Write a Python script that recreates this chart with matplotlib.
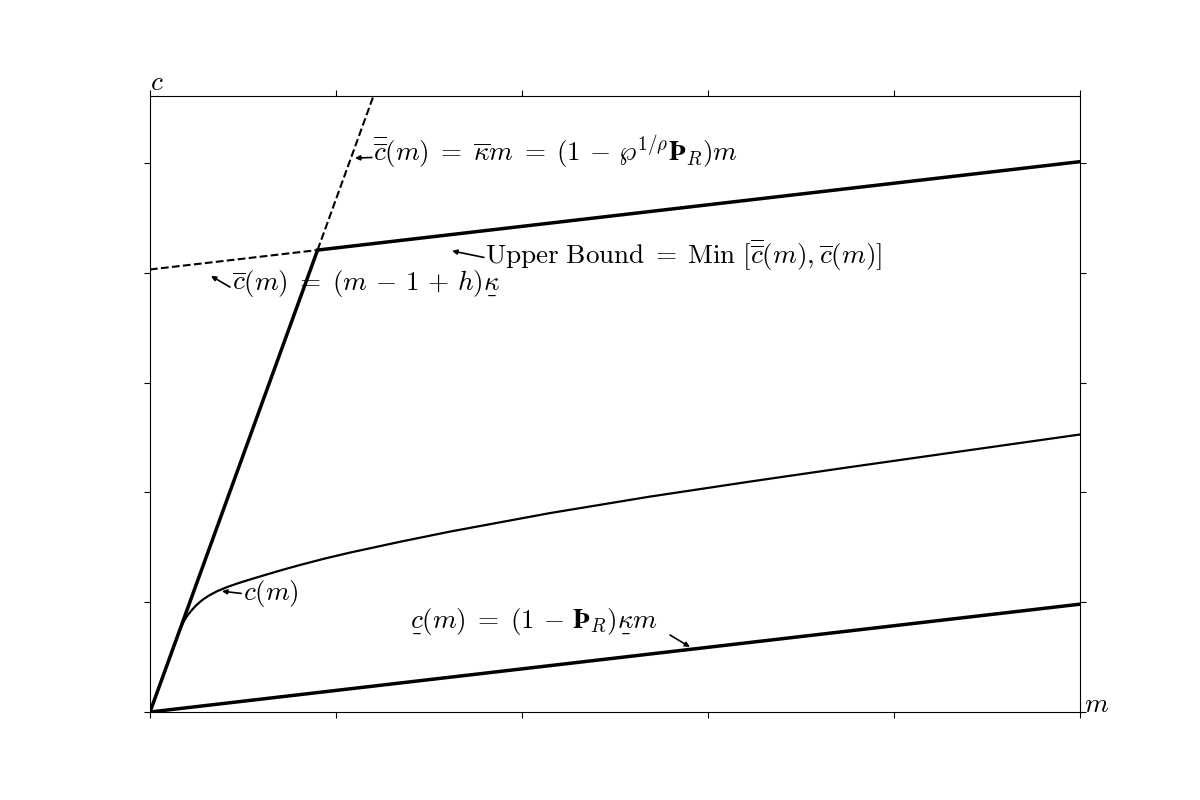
import matplotlib
matplotlib.use('Agg')
import matplotlib.pyplot as plt
import numpy as np

plt.rcParams['mathtext.fontset'] = 'cm'
plt.rcParams['font.family'] = 'serif'
plt.rcParams['font.serif'] = ['DejaVu Serif']

# axis ranges (tick units)
m_max = 5.0
c_max = 5.61

# bounds
kappa_bar = 4.67          # slope of the steep (perfect foresight) line
kappa_low = 0.1964        # slope of the lower / upper linear bounds
upper_icpt = 4.03         # intercept of (m-1+h)kappa line

# consumption function c(m)
m_pts = [0.0, 0.1505, 0.1667, 0.1828, 0.1989, 0.2204, 0.2473, 0.2796, 0.3172,
         0.3602, 0.4086, 0.4677, 0.5376, 0.6183, 0.7097, 0.8065, 0.9409,
         1.0753, 1.3441, 1.6129, 2.1505, 2.6882, 3.2258, 3.7634, 4.3011, 5.0]
c_pts = [0.0, 0.7031, 0.7723, 0.8288, 0.8725, 0.9199, 0.9699, 1.0182, 1.0610,
         1.0993, 1.1339, 1.1694, 1.2067, 1.2477, 1.2933, 1.3388, 1.3980,
         1.4517, 1.5501, 1.6430, 1.8115, 1.9617, 2.0984, 2.2304, 2.3597, 2.5273]

m_kink = upper_icpt / (kappa_bar - kappa_low)

fig, ax = plt.subplots(figsize=(12, 8), dpi=100)

m_a = np.array([0.0, m_kink])
m_b = np.array([m_kink, m_max])
m_c = np.array([m_kink, 1.5])
m_all = np.array([0.0, m_max])

ax.plot(m_a, kappa_bar * m_a, color='black', lw=2.5, solid_capstyle='butt')
ax.plot(m_c, kappa_bar * m_c, color='black', lw=1.5, ls='--')
ax.plot(m_a, upper_icpt + kappa_low * m_a, color='black', lw=1.5, ls='--')
ax.plot(m_b, upper_icpt + kappa_low * m_b, color='black', lw=2.5)
ax.plot(m_all, kappa_low * m_all, color='black', lw=2.5)
ax.plot(m_pts, c_pts, color='black', lw=1.6, solid_joinstyle='round')

ax.set_xlim(0, m_max)
ax.set_ylim(0, c_max)
ax.set_xticks(np.arange(0, 6))
ax.set_yticks(np.arange(0, 6))
ax.tick_params(direction='out', length=4, top=True, right=True,
               labelbottom=False, labelleft=False)

fs = 19.5
arrow = dict(arrowstyle='-|>', color='black', lw=1.2, mutation_scale=7,
             shrinkA=0, shrinkB=0)

def label(text, head, tail, pos):
    ax.annotate('', xy=head, xytext=tail, arrowprops=arrow)
    ax.text(pos[0], pos[1], text, fontsize=fs, ha='left', va='center')

ul_kappa = r'\underset{\_}{\kappa}'
ul_c = r'\underset{\_}{c}'
eq = r'\;=\;'
mi = r'\,-\,'
pl = r'\,+\,'

label(r'$\overline{\overline{c}}(m)' + eq + r'\overline{\kappa}m' + eq
      + r'(1' + mi + r'\wp^{1/\rho}\mathbf{Þ}_R)m$',
      (1.102, 5.045), (1.193, 5.05), (1.199, 5.10))
label(r'$\mathrm{Upper\ Bound}' + eq
      + r'\mathrm{Min}\ [\overline{\overline{c}}(m), \overline{c}(m)]$',
      (1.624, 4.199), (1.795, 4.14), (1.801, 4.16))
label(r'$\overline{c}(m)' + eq + '(m' + mi + '1' + pl + 'h)' + ul_kappa + '$',
      (0.328, 3.971), (0.430, 3.87), (0.441, 3.90))
label(r'$c(m)$', (0.387, 1.10), (0.49, 1.08), (0.50, 1.075))

ax.annotate('', xy=(2.903, 0.592), xytext=(2.796, 0.701), arrowprops=arrow)
ax.text(1.398, 0.82, '$' + ul_c + '(m)' + eq + '(1' + mi + r'\mathbf{Þ}_R)'
        + ul_kappa + 'm$', fontsize=fs, ha='left', va='center')

ax.text(0.0, 1.01, r'$c$', transform=ax.transAxes, fontsize=fs, ha='left', va='baseline')
ax.text(1.004, 0.0, r'$m$', transform=ax.transAxes, fontsize=fs, ha='left', va='baseline')

fig.savefig('out.png', dpi=100)
